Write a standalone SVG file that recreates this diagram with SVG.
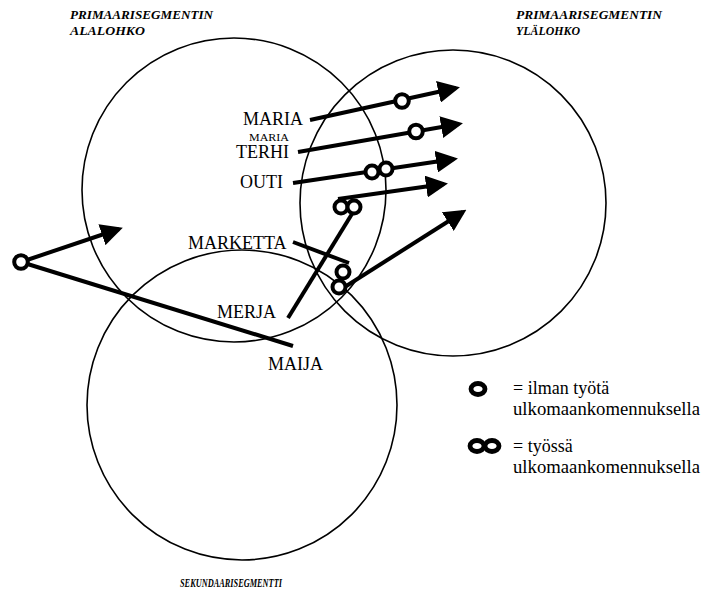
<svg xmlns="http://www.w3.org/2000/svg" width="701" height="596" viewBox="0 0 701 596">
<style>
.seg{fill:none;stroke:#000;stroke-width:1.6}
.ln{fill:none;stroke:#000;stroke-width:4;stroke-linecap:butt;stroke-linejoin:round}
.arr{marker-end:url(#ah)}
.mk{fill:#fff;stroke:#000;stroke-width:4}
.lg{fill:#fff;stroke:#000;stroke-width:4.8}
.ttl{font-family:"Liberation Serif","Times New Roman",serif;font-style:italic;font-weight:bold;font-size:13px;fill:#000}
.nm{font-family:"Liberation Serif",serif;font-size:18px;fill:#000}
.lt{font-family:"Liberation Serif",serif;font-size:18px;fill:#000}
</style>
<defs>
<marker id="ah" viewBox="0 0 22 22" refX="18" refY="11" markerWidth="22" markerHeight="22" markerUnits="userSpaceOnUse" orient="auto">
<path d="M0,0 L22,11 L0,22 z" fill="#000"/>
</marker>
</defs>
<rect width="701" height="596" fill="#fff"/>
<g id="segments">
<circle id="alalohko" class="seg" cx="234" cy="190" r="152"/>
<circle id="ylalohko" class="seg" cx="453" cy="203" r="153"/>
<circle id="sekundaari" class="seg" cx="242" cy="405" r="155"/>
</g>
<g id="titles">
<text class="ttl" x="70" y="19" textLength="143" lengthAdjust="spacingAndGlyphs">PRIMAARISEGMENTIN</text>
<text class="ttl" x="70" y="35" textLength="75" lengthAdjust="spacingAndGlyphs">ALALOHKO</text>
<text class="ttl" x="516" y="19" textLength="146" lengthAdjust="spacingAndGlyphs">PRIMAARISEGMENTIN</text>
<text class="ttl" x="516" y="35" textLength="64" lengthAdjust="spacingAndGlyphs">YLÄLOHKO</text>
<text class="ttl" x="180" y="587" style="font-size:12px" textLength="102" lengthAdjust="spacingAndGlyphs">SEKUNDAARISEGMENTTI</text>
</g>
<g id="connectors">
<path class="ln arr" d="M310,120 L456,88"/>
<path class="ln arr" d="M298,152 L459,124"/>
<path class="ln arr" d="M293,183 L454,159"/>
<path class="ln" d="M288,318 L355,209"/>
<path class="ln arr" d="M338,199 L444,184"/>
<path class="ln" d="M293,242 L349,263"/>
<path class="ln arr" d="M340,290 L463,212"/>
<path class="ln" d="M293,346 L21,262"/>
<path class="ln arr" d="M21,262 L119,229"/>
</g>
<g id="maria">
<text class="nm" x="243" y="125">MARIA</text>
<circle class="mk" cx="402" cy="101" r="6.8"/>
</g>
<g id="terhi">
<text class="nm" x="249" y="141" style="font-size:10px" textLength="40" lengthAdjust="spacingAndGlyphs">MARIA</text>
<text class="nm" x="236" y="158">TERHI</text>
<circle class="mk" cx="416" cy="131.5" r="6.8"/>
</g>
<g id="outi">
<text class="nm" x="240" y="188">OUTI</text>
<circle class="mk" cx="372" cy="172" r="6.5"/>
<circle class="mk" cx="386" cy="169" r="6.5"/>
</g>
<g id="merja">
<text class="nm" x="217" y="318">MERJA</text>
<circle class="mk" cx="341" cy="207" r="6.5"/>
<circle class="mk" cx="354" cy="207" r="6.5"/>
</g>
<g id="marketta">
<text class="nm" x="188" y="249">MARKETTA</text>
<circle class="mk" cx="343" cy="272" r="6.5"/>
<circle class="mk" cx="339" cy="287" r="6.5"/>
</g>
<g id="maija">
<text class="nm" x="268" y="370">MAIJA</text>
<circle class="mk" cx="21" cy="262" r="6.8"/>
</g>
<g id="legend">
<ellipse class="lg" cx="478" cy="389" rx="7" ry="5.5"/>
<text class="lt" x="513" y="394">= ilman työtä</text>
<text class="lt" x="513" y="415" textLength="187" lengthAdjust="spacingAndGlyphs">ulkomaankomennuksella</text>
<ellipse class="lg" cx="477" cy="446" rx="7" ry="5.5"/>
<ellipse class="lg" cx="492" cy="446" rx="7" ry="5.5"/>
<text class="lt" x="513" y="452">= työssä</text>
<text class="lt" x="513" y="473" textLength="187" lengthAdjust="spacingAndGlyphs">ulkomaankomennuksella</text>
</g>
</svg>
